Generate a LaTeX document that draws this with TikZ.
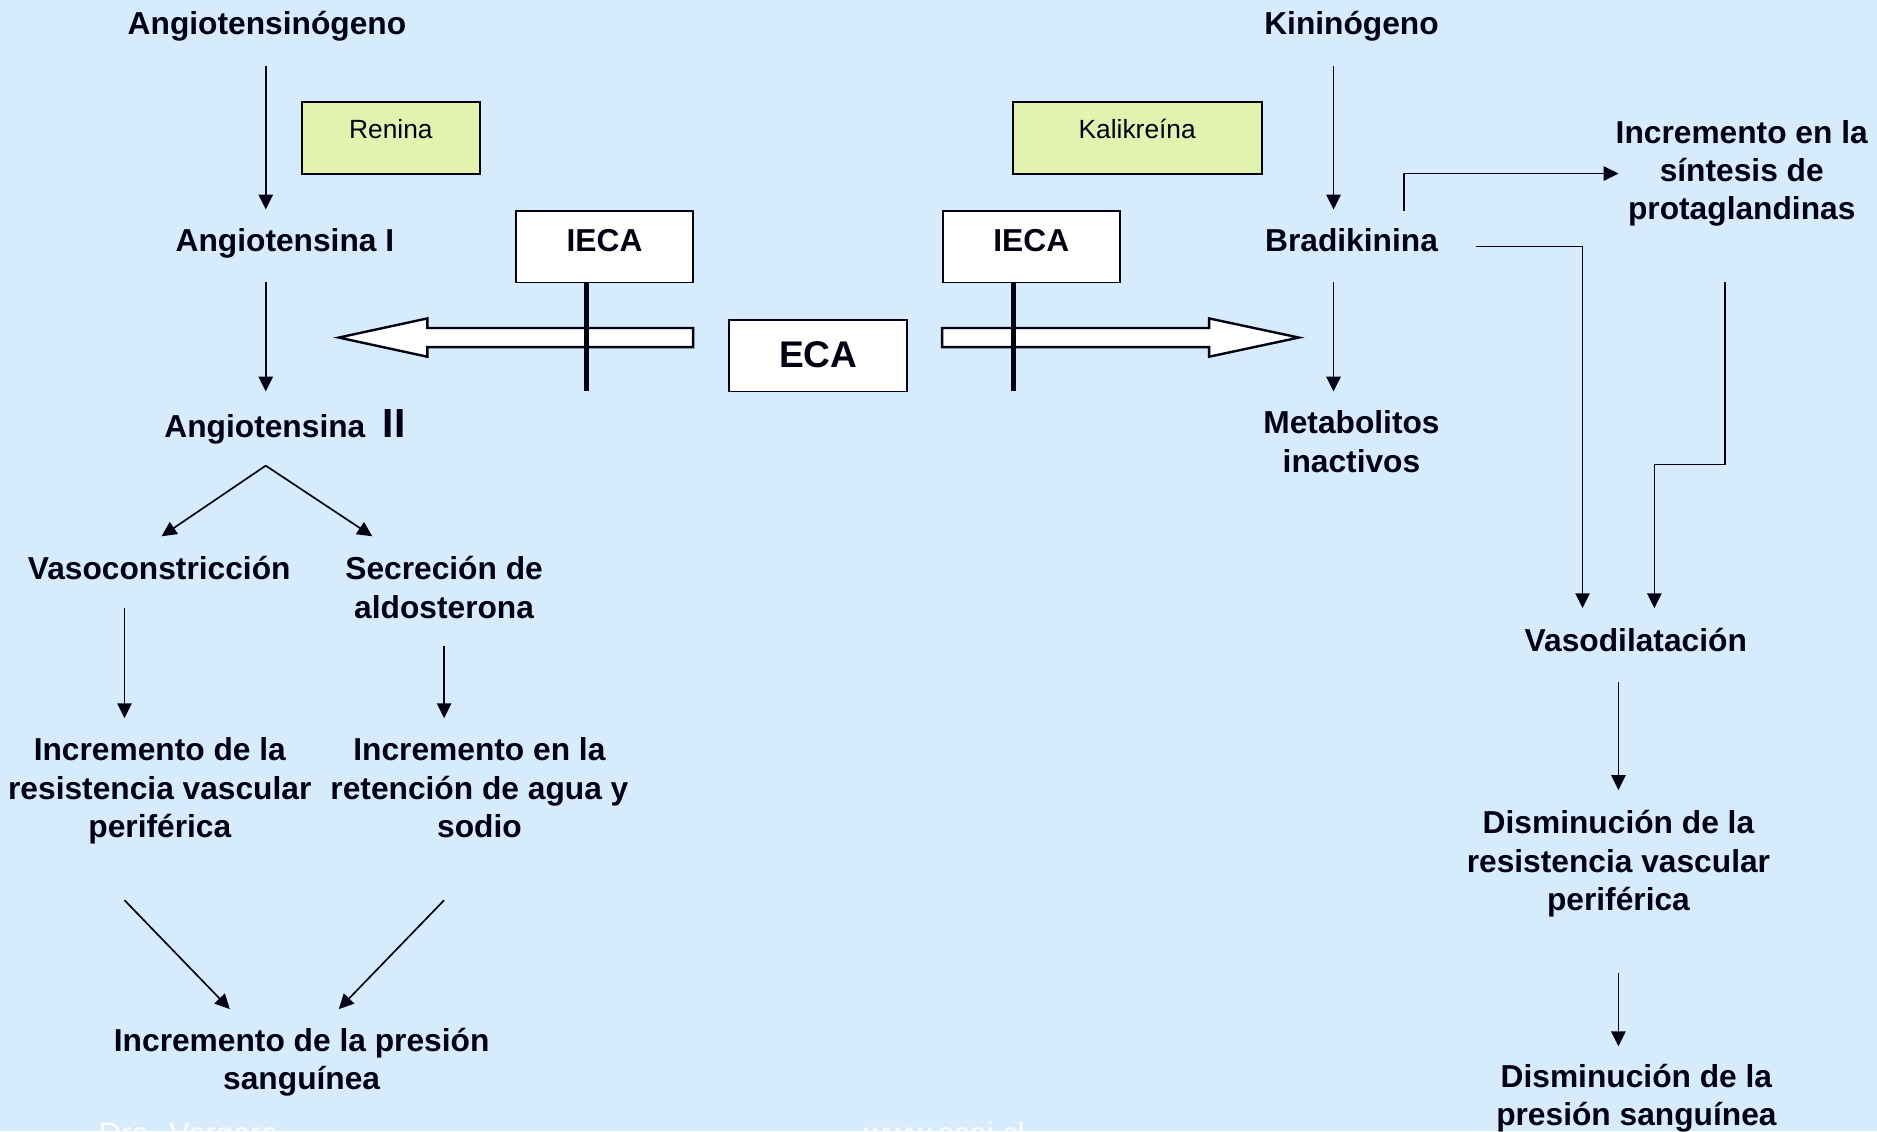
\documentclass[tikz,border=0pt]{standalone}
\usepackage{fontspec}
\setmainfont{Liberation Sans}
\usetikzlibrary{arrows.meta}
\definecolor{bg}{RGB}{214,235,252}
\definecolor{enzyme}{RGB}{226,243,176}
\definecolor{ink}{RGB}{0,2,18}
\begin{document}
\begin{tikzpicture}[x=0.5pt,y=-0.5pt,
  lbl/.style={font=\fontsize{13.25}{16}\selectfont\bfseries, text=ink, align=center, inner sep=0pt, anchor=base},
  enz/.style={draw=ink, line width=0.85pt, fill=enzyme, minimum width=#1, minimum height=30pt, inner sep=0pt,
     font=\fontsize{11}{13}\selectfont, text=ink, text height=8pt, text depth=7.2pt},
  inh/.style={draw=ink, line width=0.75pt, fill=white, minimum width=74pt, minimum height=30pt, inner sep=0pt,
     font=\fontsize{13.25}{16}\selectfont\bfseries, text=ink, text height=10pt, text depth=5.5pt},
  arr/.style={draw=ink, line width=0.7pt, -{Triangle[length=6.2pt,width=6pt]}},
  bar/.style={draw=ink, line width=2.1pt},
  hollow/.style={draw=ink, line width=1pt, fill=white, line join=miter},
  foot/.style={font=\fontsize{13}{15}\selectfont, text=white, anchor=base, inner sep=0pt}
]
\useasboundingbox (0,0) rectangle (1568,945);
\fill[bg] (0,0) rectangle (1568,945);
\clip (0,0) rectangle (1568,945);

% ---------- left: renin-angiotensin ----------
\node[lbl] (angiogen) at (223,28.5) {Angiotensinógeno};
\node[enz=74.5pt] (renina) at (326.5,115) {Renina};
\node[lbl] (angI) at (238,210.5) {Angiotensina I};
\node[lbl] (angII) at (238,365.5) {Angiotensina\hspace{0.55em}{\fontsize{17}{16}\selectfont II}};
\node[lbl] (vasoc) at (133,484.5) {Vasoconstricción};
\node[lbl] (secre) at (371,516.5) {Secreción de\\aldosterona};
\node[lbl] (incres) at (133.5,699.5) {Incremento de la\\resistencia vascular\\periférica};
\node[lbl] (incagua) at (400.5,699.5) {Incremento en la\\retención de agua y\\sodio};
\node[lbl] (incpres) at (252,910.5) {Incremento de la presión\\sanguínea};

% ---------- centre ----------
\coordinate (lshaft) at (579,282);
\coordinate (ltip) at (283,282);
\coordinate (rshaft) at (787,282);
\coordinate (rtip) at (1085,282);
\draw[hollow] (lshaft) ++(0,-8) -- (357,274) -- (357,266) -- (ltip) -- (357,298) -- (357,290) -- (579,290) -- cycle;
\draw[hollow] (rshaft) ++(0,-8) -- (1010,274) -- (1010,266) -- (rtip) -- (1010,298) -- (1010,290) -- (787,290) -- cycle;

\node[inh] (iecaL) at (505,206) {IECA};
\node[inh] (iecaR) at (861.5,206) {IECA};
\node[inh, font=\fontsize{15.5}{18}\selectfont\bfseries, text height=11.1pt, text depth=1pt, minimum width=74.5pt] (eca) at (683.5,297) {ECA};
\coordinate (barL) at (490,327);
\coordinate (barR) at (847,327);
\draw[bar] (barL |- iecaL.south) -- (barL);
\draw[bar] (barR |- iecaR.south) -- (barR);

% ---------- right: kallikrein-kinin ----------
\node[lbl] (kinin) at (1129,28.5) {Kininógeno};
\node[enz=104pt] (kalik) at (950,115) {Kalikreína};
\node[lbl] (bradi) at (1129,210.5) {Bradikinina};
\node[lbl] (metab) at (1129,394.5) {Metabolitos\\inactivos};
\node[lbl] (prosta) at (1455,183.5) {Incremento en la\\síntesis de\\protaglandinas};
\node[lbl] (vasod) at (1366.5,544.5) {Vasodilatación};
\node[lbl] (dismres) at (1352,760.5) {Disminución de la\\resistencia vascular\\periférica};
\node[lbl] (dismpres) at (1367,940.5) {Disminución de la\\presión sanguínea};

% ---------- connectors (left) ----------
\coordinate (c1a) at (222,55);  \coordinate (c1b) at (222,175);
\coordinate (c2a) at (222,236); \coordinate (c2b) at (222,327);
\coordinate (fork) at (222,389);
\coordinate (c3l) at (135,448); \coordinate (c3r) at (311,448);
\coordinate (c4a) at (104,508); \coordinate (c4b) at (104,600);
\coordinate (c5a) at (371,540); \coordinate (c5b) at (371,600);
\coordinate (c6a) at (104,752); \coordinate (c6b) at (192,843);
\coordinate (c7a) at (371,752); \coordinate (c7b) at (283,843);
\draw[arr] (c1a) -- (c1b);
\draw[arr] (c2a) -- (c2b);
\draw[arr] (fork) -- (c3l);
\draw[arr] (fork) -- (c3r);
\draw[arr] (c4a) -- (c4b);
\draw[arr] (c5a) -- (c5b);
\draw[arr] (c6a) -- (c6b);
\draw[arr] (c7a) -- (c7b);

% ---------- connectors (right) ----------
\coordinate (k1a) at (1114,55);  \coordinate (k1b) at (1114,175);
\coordinate (k2a) at (1114,236); \coordinate (k2b) at (1114,327);
\coordinate (p1) at (1173,176);  \coordinate (p2) at (1352,145);
\coordinate (v1) at (1233,206);  \coordinate (v1b) at (1322,508);
\coordinate (w1) at (1441,236);  \coordinate (w2) at (1382,388); \coordinate (w2b) at (1382,508);
\coordinate (d1a) at (1352,570); \coordinate (d1b) at (1352,660);
\coordinate (d2a) at (1352,813); \coordinate (d2b) at (1352,874);
\draw[arr] (k1a) -- (k1b);
\draw[arr] (k2a) -- (k2b);
\draw[arr] (p1) |- (p2);
\draw[arr] (v1) -| (v1b);
\draw[arr] (w1) |- (w2) -- (w2b);
\draw[arr] (d1a) -- (d1b);
\draw[arr] (d2a) -- (d2b);

% ---------- footer (cut off at the lower edge, as in the original) ----------
\node[foot] (autor) at (157.5,956) {Dra. Vergara};
\node[foot] (web) at (789,956) {www.scei.cl};
\end{tikzpicture}
\end{document}
